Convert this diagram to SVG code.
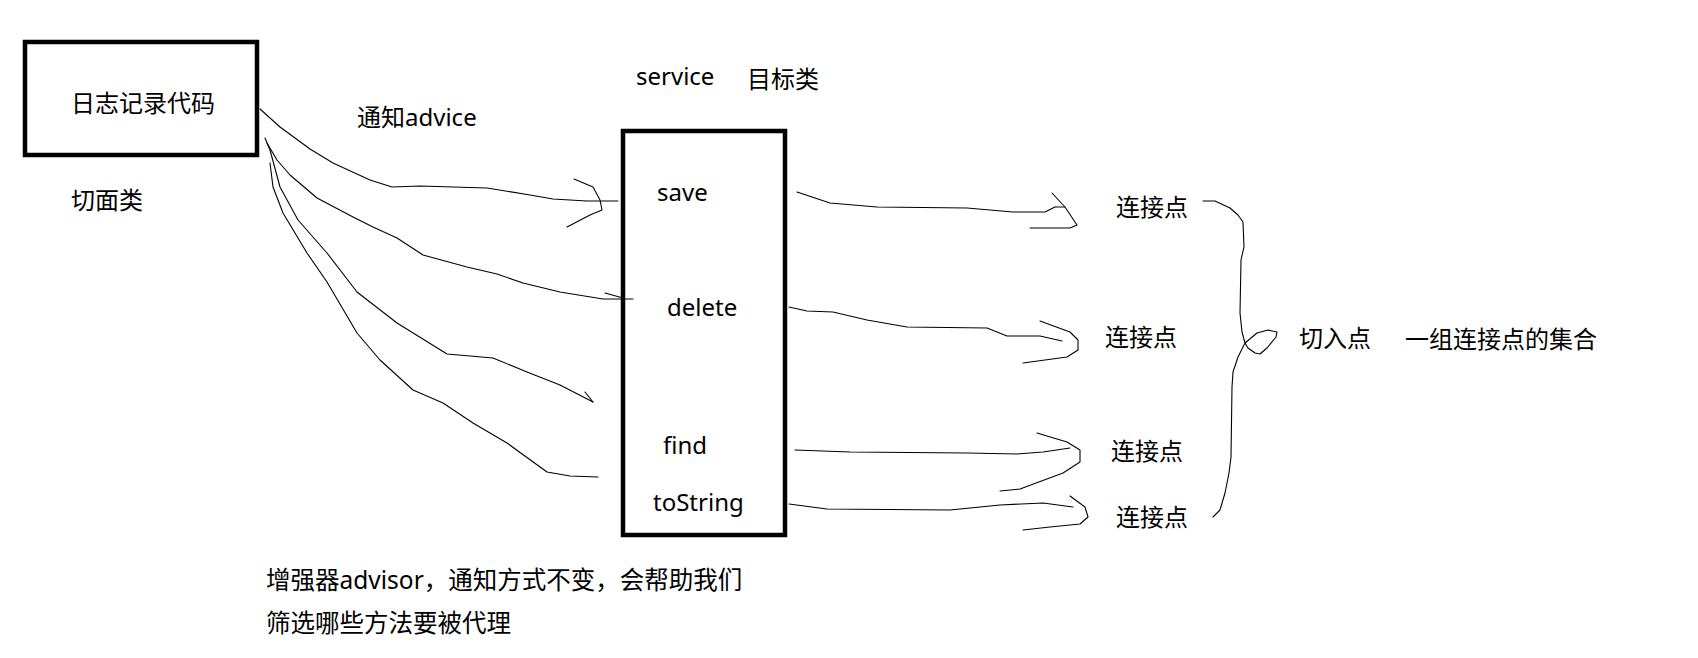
<svg xmlns="http://www.w3.org/2000/svg" width="1698" height="658" viewBox="0 0 1698 658">
<style>
text{font-family:"Noto Sans","Noto Sans CJK SC",sans-serif;fill:#000;font-size:24px}
.box{fill:#fff;stroke:#000;stroke-width:4.5}
.ln{fill:none;stroke:#000;stroke-width:1.1;stroke-linejoin:round;stroke-linecap:round}
.bt{font-size:24.5px}
</style>
<rect width="1698" height="658" fill="#fff"/>
<g id="aspect">
<rect class="box" x="25" y="42" width="232" height="113"/>
<text x="71" y="112">日志记录代码</text>
</g>
<g id="aspect-label"><text x="71" y="209">切面类</text></g>
<g id="advice-label"><text x="357" y="126">通知advice</text></g>
<g id="target-label"><text x="636" y="85">service</text><text x="747" y="88">目标类</text></g>
<g id="target">
<rect class="box" x="623" y="131" width="162" height="404"/>
<text x="657" y="201">save</text>
<text x="667" y="316">delete</text>
<text x="663" y="454">find</text>
<text x="653" y="511">toString</text>
</g>
<g id="jp1"><text x="1116" y="216">连接点</text></g>
<g id="jp2"><text x="1105" y="346">连接点</text></g>
<g id="jp3"><text x="1111" y="460">连接点</text></g>
<g id="jp4"><text x="1116" y="526">连接点</text></g>
<g id="pointcut"><text x="1299" y="347">切入点</text><text x="1405" y="348">一组连接点的集合</text></g>
<g id="advisor-note">
<text class="bt" x="266" y="589">增强器advisor，通知方式不变，会帮助我们</text>
<text class="bt" x="266" y="632">筛选哪些方法要被代理</text>
</g>
<g id="connectors">
<polyline class="ln" points="260,109 280,127 310,149 333,163 370,180 392,187 420,186 487,188 530,195 553,199 587,201 618,201"/>
<polyline class="ln" points="574,179 593,187 600,200 602,210 590,215 567,227"/>
<polyline class="ln" points="267,143 277,160 290,175 317,198 353,217 373,227 397,238 423,255 467,267 497,274 523,283 560,292 603,299 633,299"/>
<polyline class="ln" points="605,293 623,298"/>
<polyline class="ln" points="265,138 270,150 280,187 298,220 327,253 357,292 397,323 447,354 493,358 527,372 560,385 593,402"/>
<polyline class="ln" points="585,392 593,402"/>
<polyline class="ln" points="270,163 273,187 283,213 307,253 327,282 357,333 380,360 413,390 443,403 473,423 507,443 547,472 570,476 598,477"/>
<polyline class="ln" points="797,192 830,203 877,207 967,208 1013,212 1045,212 1055,207 1065,207"/>
<polyline class="ln" points="1052,193 1065,207 1077,225 1070,228 1030,228"/>
<polyline class="ln" points="789,307 807,311 833,312 867,320 907,327 987,328 1007,336 1040,336 1062,341"/>
<polyline class="ln" points="1040,321 1070,332 1078,340 1078,350 1067,357 1023,363"/>
<polyline class="ln" points="795,450 850,452 967,453 1017,454 1043,452 1070,448"/>
<polyline class="ln" points="1037,433 1067,442 1080,450 1080,462 1063,473 1020,489 1000,491"/>
<polyline class="ln" points="789,504 827,509 950,510 1000,505 1043,503 1073,507"/>
<polyline class="ln" points="1070,496 1085,507 1088,517 1080,524 1050,527 1023,530"/>
<polyline class="ln" points="1203,201 1215,201 1230,208 1238,215 1243,222 1244,247 1241,260 1240,313 1242,332 1245,343 1248,348 1255,353 1260,354 1267,348 1276,337 1277,332 1268,330 1257,333 1245,343 1238,357 1233,372 1232,387 1231,457 1229,473 1225,493 1220,510 1213,517"/>
</g>
</svg>
